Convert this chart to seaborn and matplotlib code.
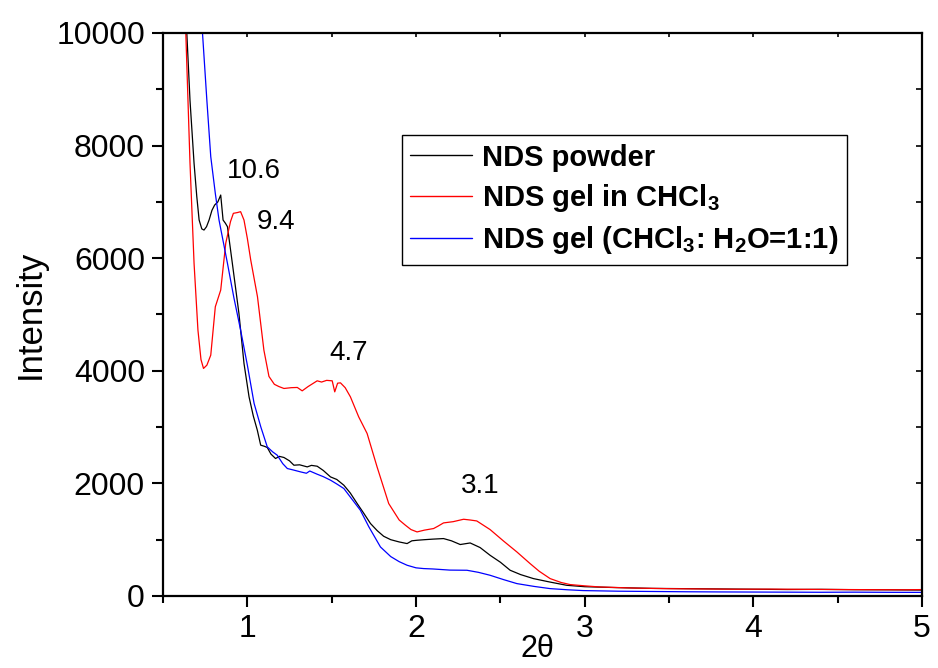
import numpy as np
import pandas as pd
import matplotlib
matplotlib.use("Agg")
import matplotlib.pyplot as plt
import seaborn as sns
from matplotlib.lines import Line2D
from matplotlib.ticker import MultipleLocator

# NDS powder
powder_x = [0.60, 0.641, 0.66, 0.684, 0.70, 0.714, 0.73, 0.743, 0.758, 0.773, 0.79, 0.806,
            0.825, 0.842, 0.856, 0.87, 0.882, 0.911, 0.95, 0.98, 1.01, 1.035, 1.059, 1.079,
            1.10, 1.118, 1.14, 1.167, 1.19, 1.217, 1.25, 1.276, 1.31, 1.355, 1.38, 1.414,
            1.45, 1.493, 1.53, 1.572, 1.61, 1.651, 1.69, 1.73, 1.77, 1.808, 1.85, 1.90,
            1.947, 1.975, 2.006, 2.05, 2.10, 2.163, 2.21, 2.262, 2.321, 2.38, 2.439, 2.50,
            2.558, 2.62, 2.696, 2.79, 2.893, 3.0, 3.189, 3.4, 3.6, 3.8, 4.0, 4.2, 4.4, 4.6,
            4.8, 5.0]
powder_y = [14000, 10000, 8800, 7685, 7100, 6678, 6520, 6500, 6560, 6678, 6850, 6944,
            7000, 7122, 6678, 6620, 6559, 5908, 5020, 4131, 3537, 3200, 2945, 2679,
            2660, 2638, 2520, 2442, 2480, 2460, 2400, 2323, 2330, 2293, 2320, 2305,
            2230, 2115, 2070, 1968, 1830, 1642, 1470, 1287, 1160, 1061, 1000, 960,
            931, 980, 990, 1000, 1010, 1020, 980, 914, 942, 860, 723, 600,
            457, 380, 309, 250, 190, 165, 149, 135, 130, 125, 120, 115, 118, 112,
            110, 105]

# NDS gel in CHCl3
gel_x = [0.60, 0.635, 0.66, 0.684, 0.707, 0.725, 0.74, 0.76, 0.783, 0.81, 0.842, 0.872,
         0.90, 0.917, 0.94, 0.96, 0.98, 1.0, 1.02, 1.06, 1.098, 1.128, 1.16, 1.187,
         1.217, 1.26, 1.296, 1.325, 1.36, 1.414, 1.44, 1.47, 1.503, 1.518, 1.535, 1.552,
         1.58, 1.611, 1.66, 1.71, 1.769, 1.838, 1.90, 1.937, 1.97, 2.006, 2.05, 2.104,
         2.13, 2.163, 2.22, 2.282, 2.32, 2.36, 2.439, 2.518, 2.598, 2.676, 2.73, 2.795,
         2.86, 2.913, 3.0, 3.09, 3.3, 3.5, 3.7, 3.9, 4.1, 4.3, 4.5, 4.7, 4.9, 5.0]
gel_y = [14000, 10000, 7685, 5908, 4723, 4200, 4042, 4100, 4278, 5137, 5434, 6268,
         6650, 6797, 6810, 6826, 6678, 6350, 5967, 5315, 4367, 3900, 3760, 3720,
         3686, 3700, 3704, 3644, 3720, 3822, 3800, 3830, 3822, 3626, 3780, 3786,
         3700, 3537, 3182, 2886, 2293, 1642, 1350, 1257, 1180, 1138, 1170, 1198,
         1240, 1298, 1320, 1363, 1350, 1333, 1180, 978, 782, 576, 440, 309,
         240, 203, 180, 160, 140, 130, 125, 120, 122, 118, 115, 112, 110, 114]

# NDS gel (CHCl3 : H2O = 1:1)
mix_x = [0.70, 0.734, 0.76, 0.783, 0.81, 0.832, 0.882, 0.92, 0.96, 1.0, 1.04, 1.08,
         1.118, 1.15, 1.177, 1.21, 1.237, 1.27, 1.316, 1.35, 1.37, 1.414, 1.45, 1.493,
         1.53, 1.572, 1.62, 1.67, 1.72, 1.789, 1.85, 1.90, 1.947, 2.0, 2.045, 2.10,
         2.20, 2.302, 2.37, 2.439, 2.52, 2.598, 2.70, 2.795, 2.90, 2.992, 3.2, 3.4,
         3.6, 3.8, 4.0, 4.2, 4.4, 4.6, 4.8, 5.0]
mix_y = [12500, 10000, 8800, 7803, 7150, 6678, 5908, 5300, 4723, 4100, 3420, 3000,
         2649, 2560, 2501, 2350, 2264, 2240, 2204, 2180, 2220, 2163, 2120, 2057,
         1990, 1909, 1720, 1523, 1230, 871, 700, 610, 546, 500, 487, 480,
         460, 457, 420, 368, 290, 220, 170, 131, 110, 96, 85, 80,
         75, 72, 70, 68, 66, 68, 65, 64]

series_names = ["NDS powder", "NDS gel in CHCl3", "NDS gel (CHCl3: H2O=1:1)"]
legend_labels = [r"NDS powder",
                 r"NDS gel in CHCl$_\mathbf{3}$",
                 r"NDS gel (CHCl$_\mathbf{3}$: H$_\mathbf{2}$O=1:1)"]
colors = ["black", "red", "blue"]

peak_labels = ["10.6", "9.4", "4.7", "3.1"]
peak_x = [1.04, 1.168, 1.601, 2.38]
peak_y = [7553, 6648, 4308, 1949]

df = pd.concat([
    pd.DataFrame({"two_theta": powder_x, "intensity": powder_y, "sample": series_names[0]}),
    pd.DataFrame({"two_theta": gel_x, "intensity": gel_y, "sample": series_names[1]}),
    pd.DataFrame({"two_theta": mix_x, "intensity": mix_y, "sample": series_names[2]}),
])

sns.set_theme(style="ticks")
plt.rcParams["font.family"] = ["Liberation Sans", "DejaVu Sans"]
plt.rcParams["mathtext.fontset"] = "custom"
plt.rcParams["mathtext.rm"] = "Liberation Sans"
plt.rcParams["mathtext.bf"] = "Liberation Sans:bold"
plt.rcParams["text.color"] = "black"
plt.rcParams["axes.labelcolor"] = "black"
plt.rcParams["xtick.color"] = "black"
plt.rcParams["ytick.color"] = "black"

fig = plt.figure(figsize=(9.38, 6.68), dpi=100)
ax = fig.add_axes([0.1738, 0.1078, 0.8092, 0.8428])

sns.lineplot(data=df, x="two_theta", y="intensity", hue="sample",
             palette=dict(zip(series_names, colors)), estimator=None, sort=False,
             linewidth=0.9, legend=False, ax=ax)

ax.set_xlim(0.5, 5)
ax.set_ylim(0, 10000)
ax.xaxis.set_major_locator(MultipleLocator(1))
ax.xaxis.set_minor_locator(MultipleLocator(0.5))
ax.yaxis.set_major_locator(MultipleLocator(2000))
ax.yaxis.set_minor_locator(MultipleLocator(1000))

for side in ax.spines.values():
    side.set_linewidth(1.6)
    side.set_color("black")

ax.tick_params(which="major", direction="out", length=8, width=1.5, labelsize=23,
               pad=5, colors="black")
ax.tick_params(which="minor", direction="out", length=5, width=1.5)

# inward ticks on top and right frame
top = ax.secondary_xaxis("top")
top.xaxis.set_major_locator(MultipleLocator(0.5))
top.tick_params(direction="in", length=3, width=1.2, labeltop=False)
right = ax.secondary_yaxis("right")
right.yaxis.set_major_locator(MultipleLocator(1000))
right.tick_params(direction="in", length=4, width=1.2, labelright=False)

ax.set_xlabel("2θ", fontsize=22, va="bottom")
ax.xaxis.set_label_coords(0.493, -0.12)
ax.set_ylabel("Intensity", fontsize=25, labelpad=7)

for lab, px, py in zip(peak_labels, peak_x, peak_y):
    ax.text(px, py, lab, fontsize=20, ha="center", va="center")

handles = [Line2D([0], [0], color=c, linewidth=1) for c in colors]
leg = ax.legend(handles, legend_labels, loc="upper left", bbox_to_anchor=(0.3145, 0.819),
                prop={"weight": "bold", "size": 21}, frameon=True, fancybox=False,
                edgecolor="black", framealpha=1, handlelength=2.1, handletextpad=0.35,
                borderpad=0.3, labelspacing=0.35, borderaxespad=0)
leg.get_frame().set_linewidth(1.0)

fig.savefig("out.png", dpi=100)
